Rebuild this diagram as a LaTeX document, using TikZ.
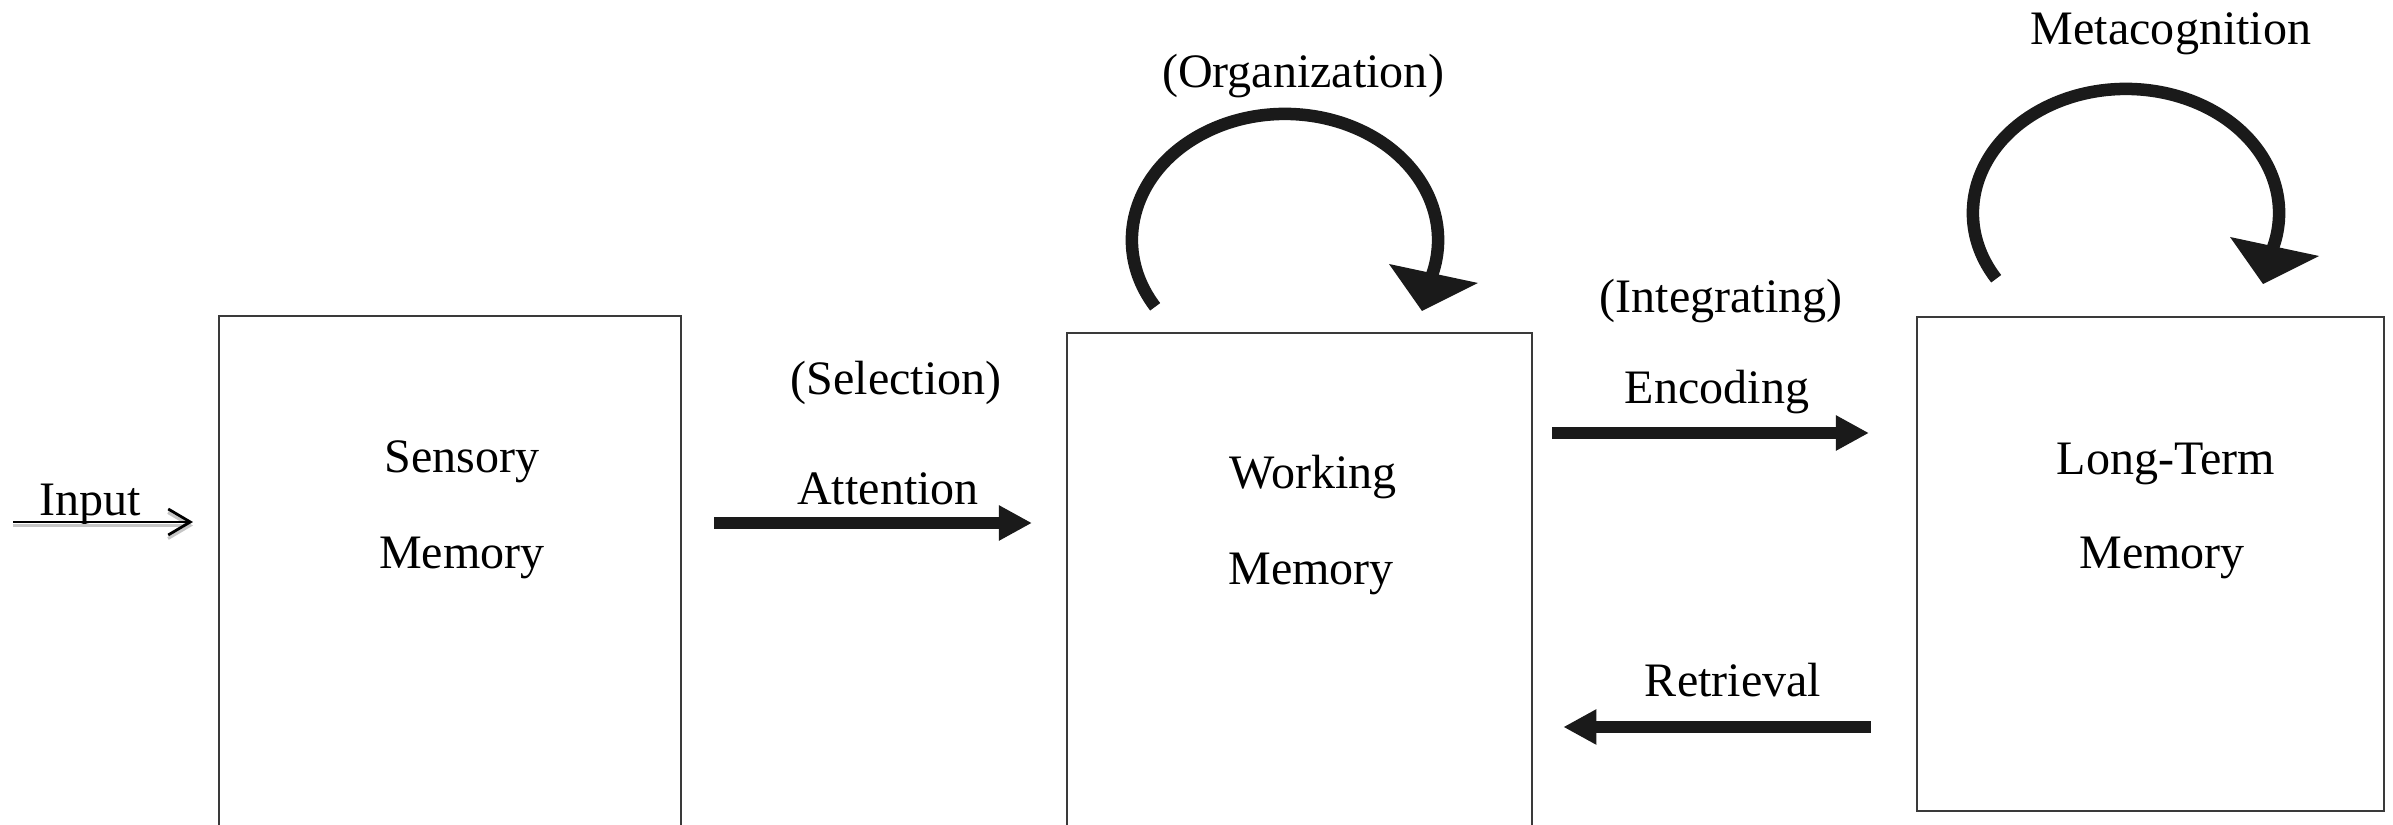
\documentclass[tikz,border=0pt]{standalone}
\usepackage{fontspec}
\setmainfont{Liberation Serif}
\usetikzlibrary{arrows.meta}
\definecolor{ink}{HTML}{1A1A1A}
\definecolor{boxline}{HTML}{3A3A3A}
\tikzset{
  lbl/.style={font=\fontsize{13.66pt}{16pt}\selectfont, anchor=base, inner sep=0pt, text=black},
  membox/.style={draw=boxline, line width=0.02cm, anchor=north west, inner sep=0pt},
  bigarrow/.style={draw=ink, line width=0.115cm, -{Triangle[length=0.33cm,width=0.33cm]}},
  looparc/.style={draw=ink, line width=0.125cm},
  loophead/.style={fill=ink},
  inarrow/.style={draw=black, line width=0.028cm, -{Straight Barb[length=0.22cm,width=0.26cm]},
    preaction={draw=gray!45, line width=0.03cm, transform canvas={yshift=-0.035cm}}}
}
\begin{document}
\begin{tikzpicture}[x=0.01cm, y=-0.01cm]
\useasboundingbox (0,0) rectangle (2393,825);
\clip (0,0) rectangle (2393,825);
\fill[white] (0,0) rectangle (2393,825);

% boxes
\node[membox, minimum width=4.62cm, minimum height=5.40cm] (sens) at (218,315) {};
\node[membox, minimum width=4.65cm, minimum height=5.20cm] (work) at (1066,332) {};
\node[membox, minimum width=4.67cm, minimum height=4.94cm] (ltm) at (1916,316) {};

% box texts
\node[lbl] (s1) at (462,473) {Sensory};
\node[lbl] (s2) at (462,569) {Memory};
\node[lbl] (w1) at (1313,489) {Working};
\node[lbl] (w2) at (1311,585) {Memory};
\node[lbl] (l1) at (2166,475) {Long-Term};
\node[lbl] (l2) at (2162,569) {Memory};

% arrow labels
\node[lbl] (inp) at (90,516) {Input};
\node[lbl] (sel) at (896,395) {(Selection)};
\node[lbl] (att) at (888,505) {Attention};
\node[lbl] (intg) at (1721,313) {(Integrating)};
\node[lbl] (enc) at (1717,404) {Encoding};
\node[lbl] (ret) at (1733,697) {Retrieval};
\node[lbl] (org) at (1303,88) {(Organization)};
\node[lbl] (meta) at (2171,45) {Metacognition};

% connector anchors
\coordinate (yin) at (0,522);
\coordinate (yatt) at (0,523);
\coordinate (yenc) at (0,433);
\coordinate (yret) at (0,727);
\coordinate (instart) at (13,522);

% arrows
\draw[inarrow, shorten >=0.25cm] (instart) -- (sens.west |- yin);
\draw[bigarrow, shorten <=0.32cm, shorten >=0.34cm] (sens.east |- yatt) -- (work.west |- yatt);
\draw[bigarrow, shorten <=0.19cm, shorten >=0.47cm] (work.east |- yenc) -- (ltm.west |- yenc);
\draw[bigarrow, shorten <=0.45cm, shorten >=0.30cm] (ltm.west |- yret) -- (work.east |- yret);

% loops
\coordinate (oc) at (1285,240);
\coordinate (mc) at (2126,213);
\draw[looparc] (oc) ++(212:1.53cm and 1.26cm) arc[start angle=212, end angle=-18, x radius=1.53cm, y radius=1.26cm];
\fill[loophead] (oc) ++(104,24) -- ++(89,19) -- ++(-56,28) -- cycle;
\draw[looparc] (mc) ++(212:1.53cm and 1.24cm) arc[start angle=212, end angle=-18, x radius=1.53cm, y radius=1.24cm];
\fill[loophead] (mc) ++(104,24) -- ++(89,19) -- ++(-56,28) -- cycle;
\end{tikzpicture}
\end{document}
